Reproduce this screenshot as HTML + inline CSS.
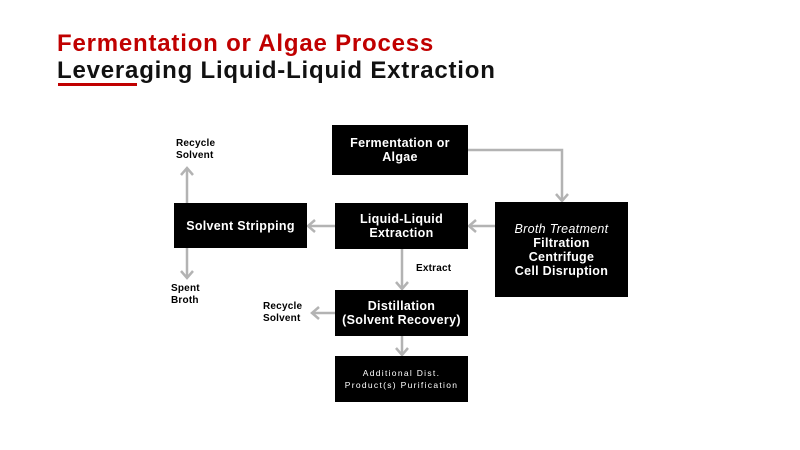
<!DOCTYPE html>
<html><head><style>
body{margin:0;width:800px;height:450px;background:#fff;overflow:hidden;position:relative;font-family:"Liberation Sans",sans-serif}
.t{position:absolute;left:57px;font-weight:bold;font-size:24px;letter-spacing:0.8px;white-space:nowrap}
.b{position:absolute;background:#000;color:#fff;font-weight:bold;font-size:12.5px;letter-spacing:0.3px;display:flex;align-items:center;justify-content:center;text-align:center;line-height:14px}
.l{position:absolute;font-weight:bold;font-size:10px;letter-spacing:0.2px;line-height:12px;color:#000}
</style></head><body>
<div class="t" style="top:30px;color:#c00000">Fermentation or Algae Process</div>
<div class="t" style="top:57px;color:#111">Leveraging Liquid-Liquid Extraction</div>
<div style="position:absolute;left:58px;top:83px;width:79px;height:3px;background:#c00000"></div>
<svg width="800" height="450" style="position:absolute;left:0;top:0">
<defs><marker id="a" markerWidth="12" markerHeight="14" refX="8" refY="7" orient="auto" markerUnits="userSpaceOnUse"><path d="M1,1 L8,7 L1,13" fill="none" stroke="#b3b3b3" stroke-width="2.5"/></marker></defs>
<g stroke="#b3b3b3" stroke-width="2.5" fill="none" marker-end="url(#a)">
<polyline points="468,150 562,150 562,201"/>
<line x1="495" y1="226" x2="469" y2="226"/>
<line x1="335" y1="226" x2="308" y2="226"/>
<line x1="187" y1="203" x2="187" y2="168"/>
<line x1="187" y1="248" x2="187" y2="278"/>
<line x1="402" y1="249" x2="402" y2="289"/>
<line x1="335" y1="313" x2="312" y2="313"/>
<line x1="402" y1="336" x2="402" y2="355"/>
</g></svg>
<div class="b" style="left:332px;top:125px;width:136px;height:50px">Fermentation or<br>Algae</div>
<div class="b" style="left:174px;top:203px;width:133px;height:45px">Solvent Stripping</div>
<div class="b" style="left:335px;top:203px;width:133px;height:46px">Liquid-Liquid<br>Extraction</div>
<div class="b" style="left:495px;top:202px;width:133px;height:95px"><div><span style="font-weight:normal;font-style:italic">Broth Treatment</span><br>Filtration<br>Centrifuge<br>Cell Disruption</div></div>
<div class="b" style="left:335px;top:290px;width:133px;height:46px">Distillation<br>(Solvent Recovery)</div>
<div class="b" style="left:335px;top:356px;width:133px;height:46px;font-weight:normal;font-size:8.5px;letter-spacing:1.3px;line-height:12px">Additional Dist.<br>Product(s) Purification</div>
<div class="l" style="left:176px;top:138px">Recycle<br>Solvent</div>
<div class="l" style="left:171px;top:283px">Spent<br>Broth</div>
<div class="l" style="left:416px;top:263px">Extract</div>
<div class="l" style="left:263px;top:301px">Recycle<br>Solvent</div>
</body></html>
